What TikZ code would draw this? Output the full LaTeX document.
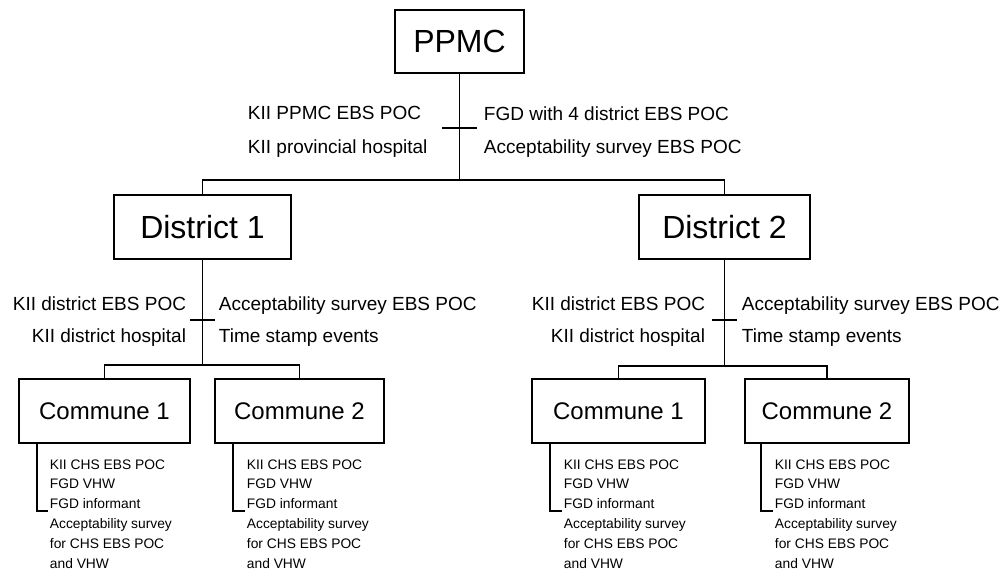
\documentclass[tikz,border=0pt]{standalone}
\usepackage{fontspec}
\setmainfont{Liberation Sans}
\begin{document}
\begin{tikzpicture}[x=1pt,y=-1pt,line width=1.9pt,
		unit/.style={draw,inner sep=0pt,minimum height=64pt},
		big/.style={font=\fontsize{32}{32}\selectfont},
		small/.style={font=\fontsize{24}{24}\selectfont},
		note/.style={inner sep=0pt,font=\fontsize{19}{19}\selectfont},
		list/.style={inner sep=0pt,align=left,font=\fontsize{13.8}{19.8}\selectfont}]
				\useasboundingbox[fill=white] (0,0) rectangle (1002,573);
				\coordinate (J0) at (459.5,180);
				\coordinate (T0) at (459.5,128);
				\coordinate (J1) at (202.5,365);
				\coordinate (T1) at (202.5,320);
				\coordinate (J2) at (724.5,366);
				\coordinate (T2) at (724.5,320);
				\coordinate (K11) at (48,511);
				\coordinate (K12) at (245,511);
				\coordinate (K21) at (562,511);
				\coordinate (K22) at (773,511);
				% boxes
				\node[unit,big,minimum width=129pt,minimum height=63pt] (PPMC) at (459.5,41.5) {PPMC};
				\node[unit,big,minimum width=177pt] (D1) at (202.5,227) {District 1};
				\node[unit,big,minimum width=171pt] (D2) at (724.5,227) {District 2};
				\node[unit,small,minimum width=171pt] (C11) at (104.5,411) {Commune 1};
				\node[unit,small,minimum width=169pt] (C12) at (299.5,411) {Commune 2};
				\node[unit,small,minimum width=173pt] (C21) at (618.5,411) {Commune 1};
				\node[unit,small,minimum width=164pt] (C22) at (827,411) {Commune 2};
				% tree lines
				\draw (PPMC) -- (J0);
				\draw (D1.north) |- (J0) -| (D2.north);
				\draw (D1) -- (J1);
				\draw (C11.north) |- (J1) -| (C12.north);
				\draw (D2) -- (J2);
				\draw (C21.north) |- (J2) -| (C22.north);
				\draw ([xshift=-17.5]T0) -- ([xshift=17.5]T0);
				\draw ([xshift=-12.5]T1) -- ([xshift=12.5]T1);
				\draw ([xshift=-12.5]T2) -- ([xshift=12.5]T2);
				\draw ([xshift=19]C11.south west) |- (K11);
				\draw ([xshift=19]C12.south west) |- (K12);
				\draw ([xshift=19]C21.south west) |- (K21);
				\draw ([xshift=17]C22.south west) |- (K22);
				% province level
				\node[note,anchor=base west] (P1) at (247,119) {KII PPMC EBS POC};
				\node[note,anchor=base west] (P2) at (247,153) {KII provincial hospital};
				\node[note,anchor=base west] (P3) at (483,120) {FGD with 4 district EBS POC};
				\node[note,anchor=base west] (P4) at (483,153) {Acceptability survey EBS POC};
				% district level
				\node[note,anchor=base east] (A1) at (187,310) {KII district EBS POC};
				\node[note,anchor=base east] (A2) at (187,342) {KII district hospital};
				\node[note,anchor=base west] (A3) at (218,310) {Acceptability survey EBS POC};
				\node[note,anchor=base west] (A4) at (218,342) {Time stamp events};
				\node[note,anchor=base east] (B1) at (706,310) {KII district EBS POC};
				\node[note,anchor=base east] (B2) at (706,342) {KII district hospital};
				\node[note,anchor=base west] (B3) at (741,310) {Acceptability survey EBS POC};
				\node[note,anchor=base west] (B4) at (741,342) {Time stamp events};
				% commune level
				\node[list,anchor=north west] (L11) at (49,458.5) {KII CHS EBS POC\\FGD VHW\\FGD informant\\Acceptability survey\\for CHS EBS POC\\and VHW};
				\node[list,anchor=north west] (L12) at (246,458.5) {KII CHS EBS POC\\FGD VHW\\FGD informant\\Acceptability survey\\for CHS EBS POC\\and VHW};
				\node[list,anchor=north west] (L21) at (563,458.5) {KII CHS EBS POC\\FGD VHW\\FGD informant\\Acceptability survey\\for CHS EBS POC\\and VHW};
				\node[list,anchor=north west] (L22) at (774,458.5) {KII CHS EBS POC\\FGD VHW\\FGD informant\\Acceptability survey\\for CHS EBS POC\\and VHW};
			\end{tikzpicture}
\end{document}
